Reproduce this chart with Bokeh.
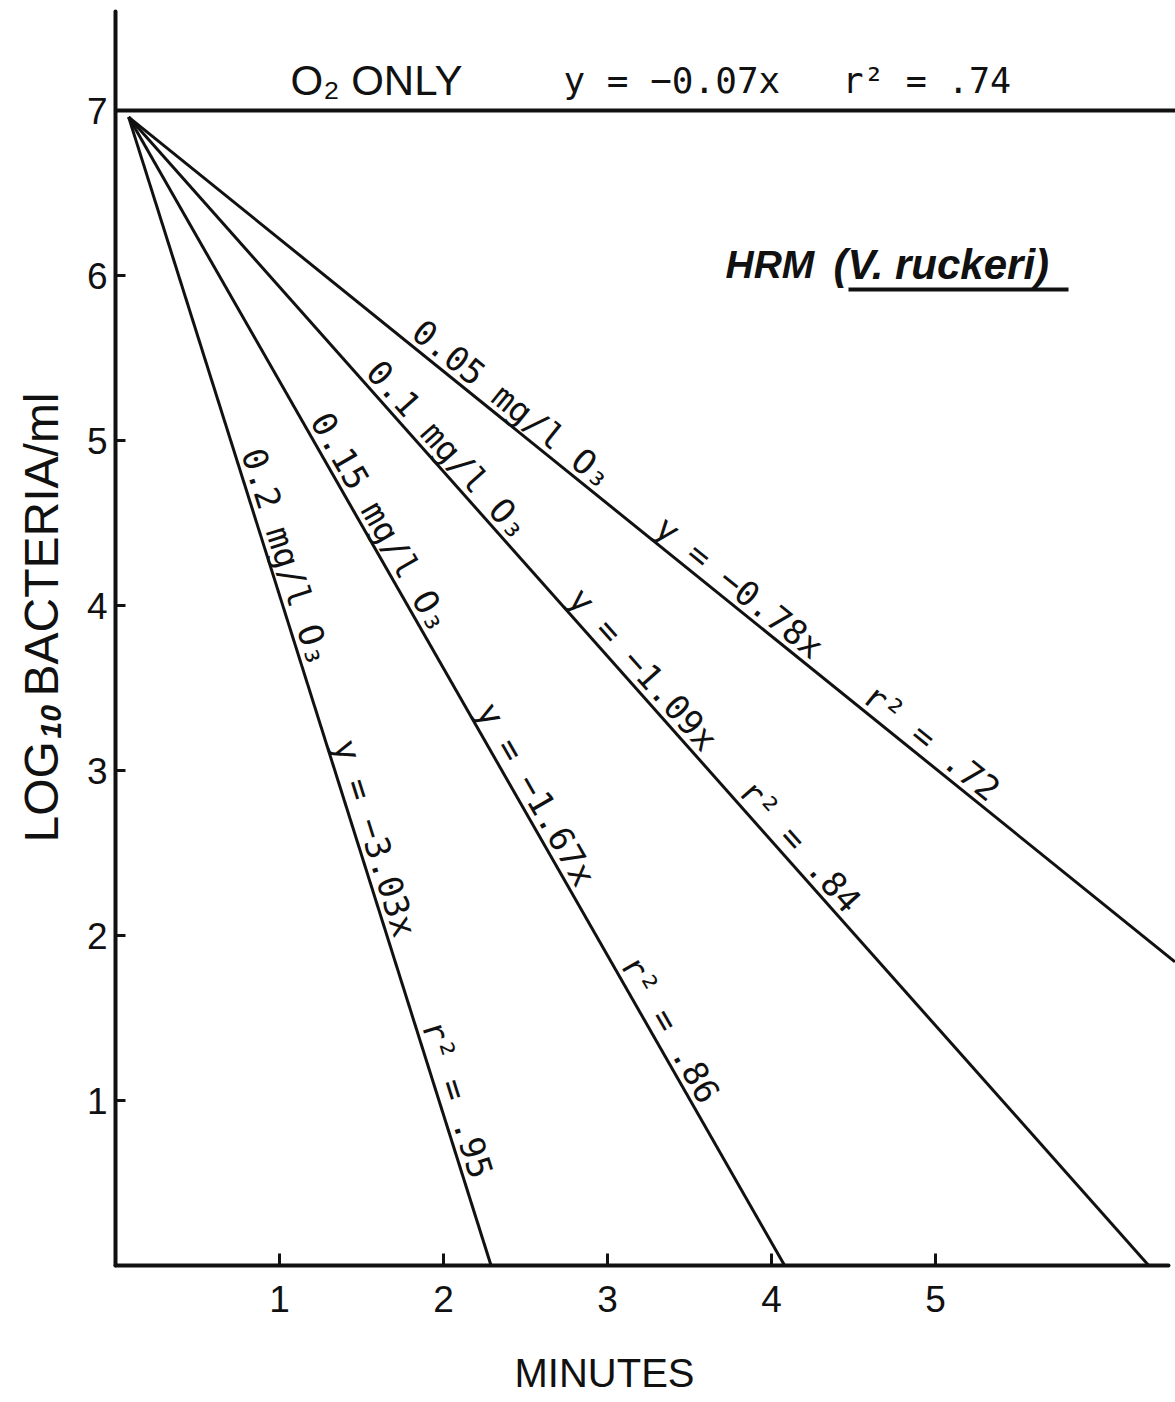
import math
from bokeh.plotting import figure
from bokeh.models import Range1d, Label, FixedTicker, ColumnDataSource, LinearAxis
from bokeh.embed import file_html
from bokeh.resources import INLINE
from bokeh.core.properties import value

# ---------------- data ----------------
concentrations = ["0.05", "0.1", "0.15", "0.2"]          # mg/l O3
slope_text = ["−0.78", "−1.09", "−1.67", "−3.03"]
r2_text = [".72", ".84", ".86", ".95"]
x_start = [0.08, 0.08, 0.08, 0.08]                       # minutes
y_start = [6.96, 6.96, 6.96, 6.96]                       # log10 bacteria/ml
x_end = [6.46, 6.30, 4.08, 2.29]
y_end = [1.84, 0.0, 0.0, 0.0]

o2_x = [0.0, 6.6]
o2_y = [7.0, 7.0]
o2_slope = "−0.07"
o2_r2 = ".74"

x_ticks = [1, 2, 3, 4, 5]
y_ticks = [1, 2, 3, 4, 5, 6, 7]

# ---------------- layout ----------------
W, H = 1175, 1402
OX, OY = 115, 1265          # pixel position of the origin
SX, SY = 164.0, 165.0       # pixels per data unit
X0, X1 = -OX / SX, (W - OX) / SX
Y0, Y1 = -(H - OY) / SY, OY / SY
X_AXIS_END = 6.42
Y_AXIS_END = 7.6

def px_to_data(px, py):
    return ((px - OX) / SX, (OY - py) / SY)

AXIS_FONT = "Liberation Sans"
MONO = "DejaVu Sans Mono"
INK = "#111111"

p = figure(width=W, height=H, x_range=Range1d(X0, X1), y_range=Range1d(Y0, Y1),
           output_backend="svg", toolbar_location=None,
           x_axis_location=None, y_axis_location=None,
           min_border=0, min_border_left=0, min_border_right=0,
           min_border_top=0, min_border_bottom=0)
p.outline_line_color = None
p.grid.visible = False
p.background_fill_color = "white"
p.border_fill_color = "white"

xaxis = LinearAxis(fixed_location=0, bounds=(0, X_AXIS_END), ticker=FixedTicker(ticks=x_ticks))
yaxis = LinearAxis(fixed_location=0, bounds=(0, Y_AXIS_END), ticker=FixedTicker(ticks=y_ticks))
for ax, tin, stand in ((xaxis, 12, 20), (yaxis, 10, 8)):
    ax.axis_line_width = 4
    ax.axis_line_color = INK
    ax.axis_line_cap = "round"
    ax.major_tick_in = tin
    ax.major_tick_out = 0
    ax.major_tick_line_width = 3
    ax.major_tick_line_color = INK
    ax.minor_tick_line_color = None
    ax.major_label_text_font = AXIS_FONT
    ax.major_label_text_font_size = "37px"
    ax.major_label_text_color = INK
    ax.major_label_standoff = stand
p.add_layout(xaxis, "below")
p.add_layout(yaxis, "left")

# lines
p.line(o2_x, o2_y, line_width=4, line_color=INK)
p.segment(x0=x_start, y0=y_start, x1=x_end, y1=y_end, line_width=3, line_color=INK)

# labels along the ozone lines (placed just above each line)
label_at = [[1.77, 3.25, 4.52], [1.49, 2.72, 3.76], [1.15, 2.16, 3.04], [0.73, 1.29, 1.83]]
gap = 18
rows = dict(x=[], y=[], text=[], angle=[])
for i in range(len(concentrations)):
    dxp = (x_end[i] - x_start[i]) * SX
    dyp = (y_end[i] - y_start[i]) * SY
    ang = math.atan2(dyp, dxp)
    nx, ny = -math.sin(ang), math.cos(ang)
    texts = [f"{concentrations[i]} mg/l O₃", f"y = {slope_text[i]}x", f"r² = {r2_text[i]}"]
    for t, xa in zip(texts, label_at[i]):
        ya = y_start[i] + (xa - x_start[i]) * (y_end[i] - y_start[i]) / (x_end[i] - x_start[i])
        rows["x"].append(xa + gap * nx / SX)
        rows["y"].append(ya + gap * ny / SY)
        rows["text"].append(t)
        rows["angle"].append(ang)
p.text(x="x", y="y", text="text", angle="angle",
       source=ColumnDataSource(rows), text_font=value(MONO), text_font_size="34px",
       text_color=INK, text_align="left", text_baseline="middle")

def add_label(px, py, text, font, size, style="normal", align="left", angle=0.0):
    x, y = px_to_data(px, py)
    p.add_layout(Label(x=x, y=y, text=text, text_font=font, text_font_size=size,
                       text_font_style=style, text_align=align, text_baseline="middle",
                       angle=angle, text_color=INK))

# top annotation (anchors at the vertical middle of the text)
add_label(290, 80, "O₂  ONLY", AXIS_FONT, "42px")
add_label(563, 80, f"y = {o2_slope}x", MONO, "36px")
add_label(842, 80, f"r² = {o2_r2}", MONO, "35px")

# species label
add_label(725, 264, "HRM", AXIS_FONT, "39px", style="bold italic")
add_label(833, 264, "(V. ruckeri)", AXIS_FONT, "42px", style="bold italic")
ux0, uy = px_to_data(848, 289)
ux1, _ = px_to_data(1068, 289)
p.segment(x0=[ux0], y0=[uy], x1=[ux1], y1=[uy], line_width=4, line_color=INK)

# axis titles
add_label(41, 842, "LOG", AXIS_FONT, "48px", angle=math.pi / 2)
add_label(50, 738, "10", AXIS_FONT, "30px", style="bold italic", angle=math.pi / 2)
add_label(41, 696, "BACTERIA/ml", AXIS_FONT, "48px", angle=math.pi / 2)
add_label(604, 1372, "MINUTES", AXIS_FONT, "40px", align="center")

open("out.html", "w").write(file_html(p, INLINE))
